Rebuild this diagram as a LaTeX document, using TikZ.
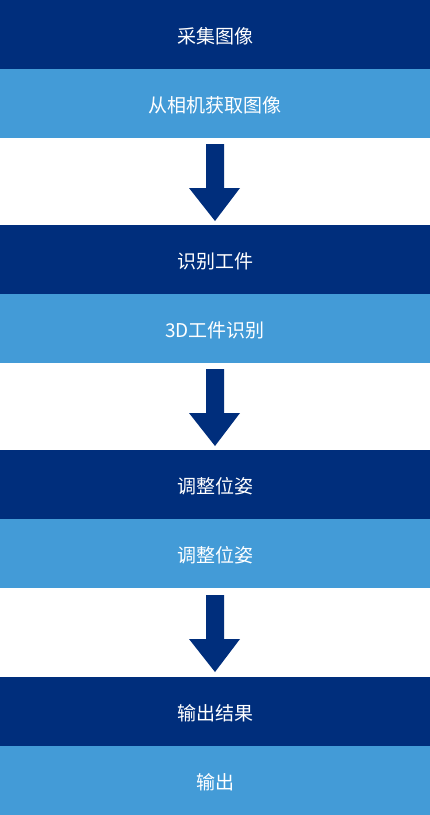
\documentclass[tikz,border=0pt]{standalone}
\usepackage{fontspec}
\newfontfamily\cjk{Noto Sans CJK SC}
\definecolor{darkband}{HTML}{002E7C}
\definecolor{lightband}{HTML}{439BD7}
\begin{document}
\begin{tikzpicture}[x=1pt,y=-1pt,
  band/.style={draw=none,minimum width=430pt,minimum height=69pt,inner sep=0pt,text=white},
  darkbox/.style={band,fill=darkband},
  lightbox/.style={band,fill=lightband},
  label/.style={text=white,inner sep=0pt,font=\cjk\fontsize{19}{21}\selectfont,yshift=-2pt},
  flowarrow/.style={fill=darkband,draw=none}]
\useasboundingbox (0,0) rectangle (430,815);
\fill[white] (0,0) rectangle (430,815);
\node[darkbox] (d1) at (215,34.5) {};
\node[lightbox] (l1) at (215,103.5) {};
\node[darkbox] (d2) at (215,259.5) {};
\node[lightbox] (l2) at (215,328.5) {};
\node[darkbox] (d3) at (215,484.5) {};
\node[lightbox] (l3) at (215,553.5) {};
\node[darkbox] (d4) at (215,711.5) {};
\node[lightbox] (l4) at (215,780.5) {};
\node[label] (t1) at (d1) {采集图像};
\node[label] (t2) at (l1) {从相机获取图像};
\node[label] (t3) at (d2) {识别工件};
\node[label] (t4) at (l2) {3D工件识别};
\node[label] (t5) at (d3) {调整位姿};
\node[label] (t6) at (l3) {调整位姿};
\node[label] (t7) at (d4) {输出结果};
\node[label] (t8) at (l4) {输出};
% arrows
\foreach \t in {144,369,595}{
  \fill[flowarrow] (206,\t) -- (224,\t) -- (224,\t+44) -- (240,\t+44) -- (215,\t+77) -- (189,\t+44) -- (206,\t+44) -- cycle;
}
\end{tikzpicture}
\end{document}
